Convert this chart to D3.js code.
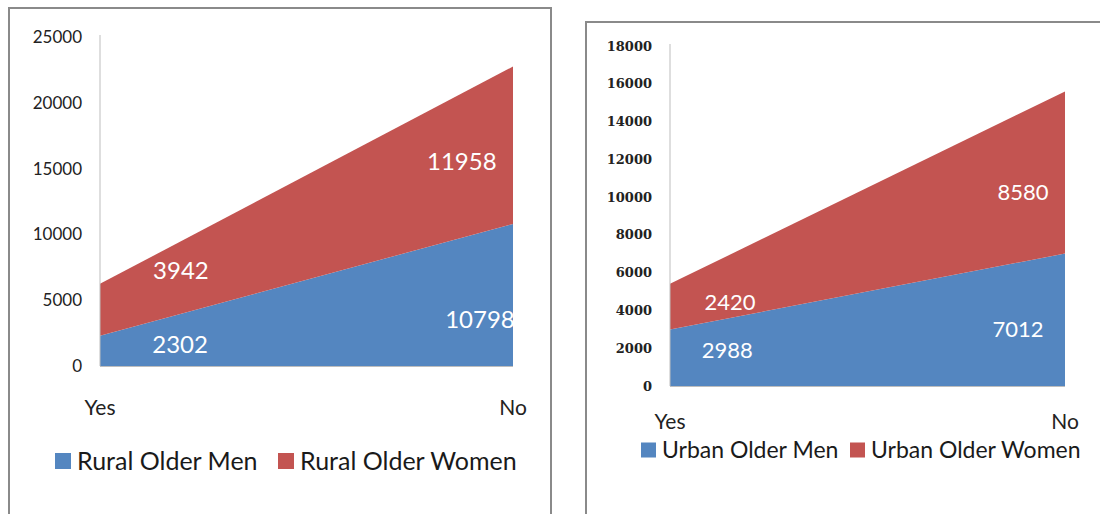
<!DOCTYPE html>
<html>
<head>
<meta charset="utf-8">
<script src="https://cdn.jsdelivr.net/npm/d3@7"></script>
<style>
  html, body { margin: 0; padding: 0; background: #fff; }
  svg { display: block; }
</style>
</head>
<body>
<svg id="draw" width="1100" height="514"></svg>
<script>
// ---- data ------------------------------------------------------------------
var categories = ["Yes", "No"];

var ruralMen = [2302, 10798];
var ruralWomen = [3942, 11958];
var ruralNames = ["Rural Older Men", "Rural Older Women"];
var ruralTicks = [0, 5000, 10000, 15000, 20000, 25000];

var urbanMen = [2988, 7012];
var urbanWomen = [2420, 8580];
var urbanNames = ["Urban Older Men", "Urban Older Women"];
var urbanTicks = [0, 2000, 4000, 6000, 8000, 10000, 12000, 14000, 16000, 18000];

var colors = ["#5486c0", "#c35451"];

// ---------------------------------------------------------------------------

var svg = d3.select("#draw");

function drawChart(c) {
    var g = svg.append("g");

    // outer frame
    g.append("rect")
        .attr("x", c.frame[0]).attr("y", c.frame[1])
        .attr("width", c.frame[2]).attr("height", c.frame[3])
        .attr("fill", "none")
        .attr("stroke", "#8a8a8a")
        .attr("stroke-width", 2);

    var x = d3.scalePoint()
        .domain(categories)
        .range([c.x0, c.x1]);
    var y = d3.scaleLinear()
        .domain([0, c.ticks[c.ticks.length - 1]])
        .range([c.base, c.top]);

    var rows = categories.map((cat, i) => ({ cat: cat, men: c.men[i], women: c.women[i] }));
    var stack = d3.stack().keys(["men", "women"])(rows);

    var area = d3.area()
        .x((d) => x(d.data.cat))
        .y0((d) => y(d[0]))
        .y1((d) => y(d[1]));

    g.selectAll("path.area")
        .data(stack)
        .enter()
        .append("path")
        .attr("class", "area")
        .attr("d", area)
        .attr("fill", (d, i) => colors[i]);

    // axes lines
    g.append("line")
        .attr("x1", c.x0).attr("x2", c.x0)
        .attr("y1", y(c.ticks[c.ticks.length - 1]) - 2).attr("y2", c.base)
        .attr("stroke", "#bdbdbd").attr("stroke-width", 1);
    g.append("line")
        .attr("x1", c.x0).attr("x2", c.x1)
        .attr("y1", c.base + 0.5).attr("y2", c.base + 0.5)
        .attr("stroke", "#bdbdbd").attr("stroke-width", 1);

    // y tick labels
    g.selectAll("text.ytick")
        .data(c.ticks)
        .enter()
        .append("text")
        .attr("class", "ytick")
        .attr("x", c.x0 - 18)
        .attr("y", (d) => y(d))
        .attr("dy", "0.35em")
        .attr("text-anchor", "end")
        .style("font-family", c.tickFont)
        .style("font-weight", c.tickWeight)
        .style("font-size", c.tickSize + "px")
        .attr("fill", "#222")
        .text((d) => d);

    // x labels
    g.selectAll("text.xlab")
        .data(categories)
        .enter()
        .append("text")
        .attr("class", "xlab")
        .attr("x", (d) => x(d))
        .attr("y", c.xLabY)
        .attr("dy", "0.35em")
        .attr("text-anchor", "middle")
        .style("font-family", "Lato")
        .style("font-size", "21px")
        .attr("fill", "#222")
        .text((d) => d);

    // data labels, placed inside each band
    var lab = [];
    stack.forEach((s, si) => {
        c.labels[si].forEach((p, pi) => {
            var a = s[0], b = s[1];
            var lo = a[0] + p.t * (b[0] - a[0]);
            var hi = a[1] + p.t * (b[1] - a[1]);
            lab.push({
                x: c.x0 + p.t * (c.x1 - c.x0),
                y: (y(lo) + y(hi)) / 2 + p.dy,
                v: s[pi].data[si == 0 ? "men" : "women"]
            });
        });
    });
    g.selectAll("text.dlab")
        .data(lab)
        .enter()
        .append("text")
        .attr("class", "dlab")
        .attr("x", (d) => d.x)
        .attr("y", (d) => d.y)
        .attr("dy", "0.35em")
        .attr("text-anchor", "middle")
        .style("font-family", "Lato")
        .style("font-size", c.labSize + "px")
        .attr("fill", "#fff")
        .text((d) => d.v);

    // legend
    var leg = g.selectAll("g.leg")
        .data(c.names)
        .enter()
        .append("g")
        .attr("class", "leg")
        .attr("transform", (d, i) => "translate(" + c.legX[i] + "," + c.legY + ")");
    leg.append("rect")
        .attr("x", 0).attr("y", -c.sq / 2)
        .attr("width", c.sq).attr("height", c.sq)
        .attr("fill", (d, i) => colors[i]);
    leg.append("text")
        .attr("x", c.sq + 6)
        .attr("y", 0)
        .attr("dy", "0.35em")
        .style("font-family", "Lato")
        .style("font-size", c.legSize + "px")
        .attr("fill", "#1a1a1a")
        .text((d) => d);
}

drawChart({
    frame: [9, 8, 542, 530],
    x0: 100, x1: 513, top: 37, base: 366,
    men: ruralMen, women: ruralWomen, names: ruralNames, ticks: ruralTicks,
    tickFont: "Lato", tickWeight: "normal", tickSize: 17,
    xLabY: 408,
    labSize: 24,
    labels: [
        [{ t: 0.194, dy: 5 }, { t: 0.92, dy: 20 }],
        [{ t: 0.196, dy: -7 }, { t: 0.876, dy: -4 }]
    ],
    legX: [55, 278], legY: 461, sq: 16, legSize: 25
});

drawChart({
    frame: [586, 22, 540, 520],
    x0: 670, x1: 1065, top: 46, base: 386,
    men: urbanMen, women: urbanWomen, names: urbanNames, ticks: urbanTicks,
    tickFont: "DejaVu Serif", tickWeight: "bold", tickSize: 13,
    xLabY: 422,
    labSize: 22,
    labels: [
        [{ t: 0.145, dy: -2 }, { t: 0.881, dy: 5 }],
        [{ t: 0.152, dy: 16 }, { t: 0.894, dy: 6 }]
    ],
    legX: [641, 850], legY: 450, sq: 15, legSize: 23
});
</script>
</body>
</html>
